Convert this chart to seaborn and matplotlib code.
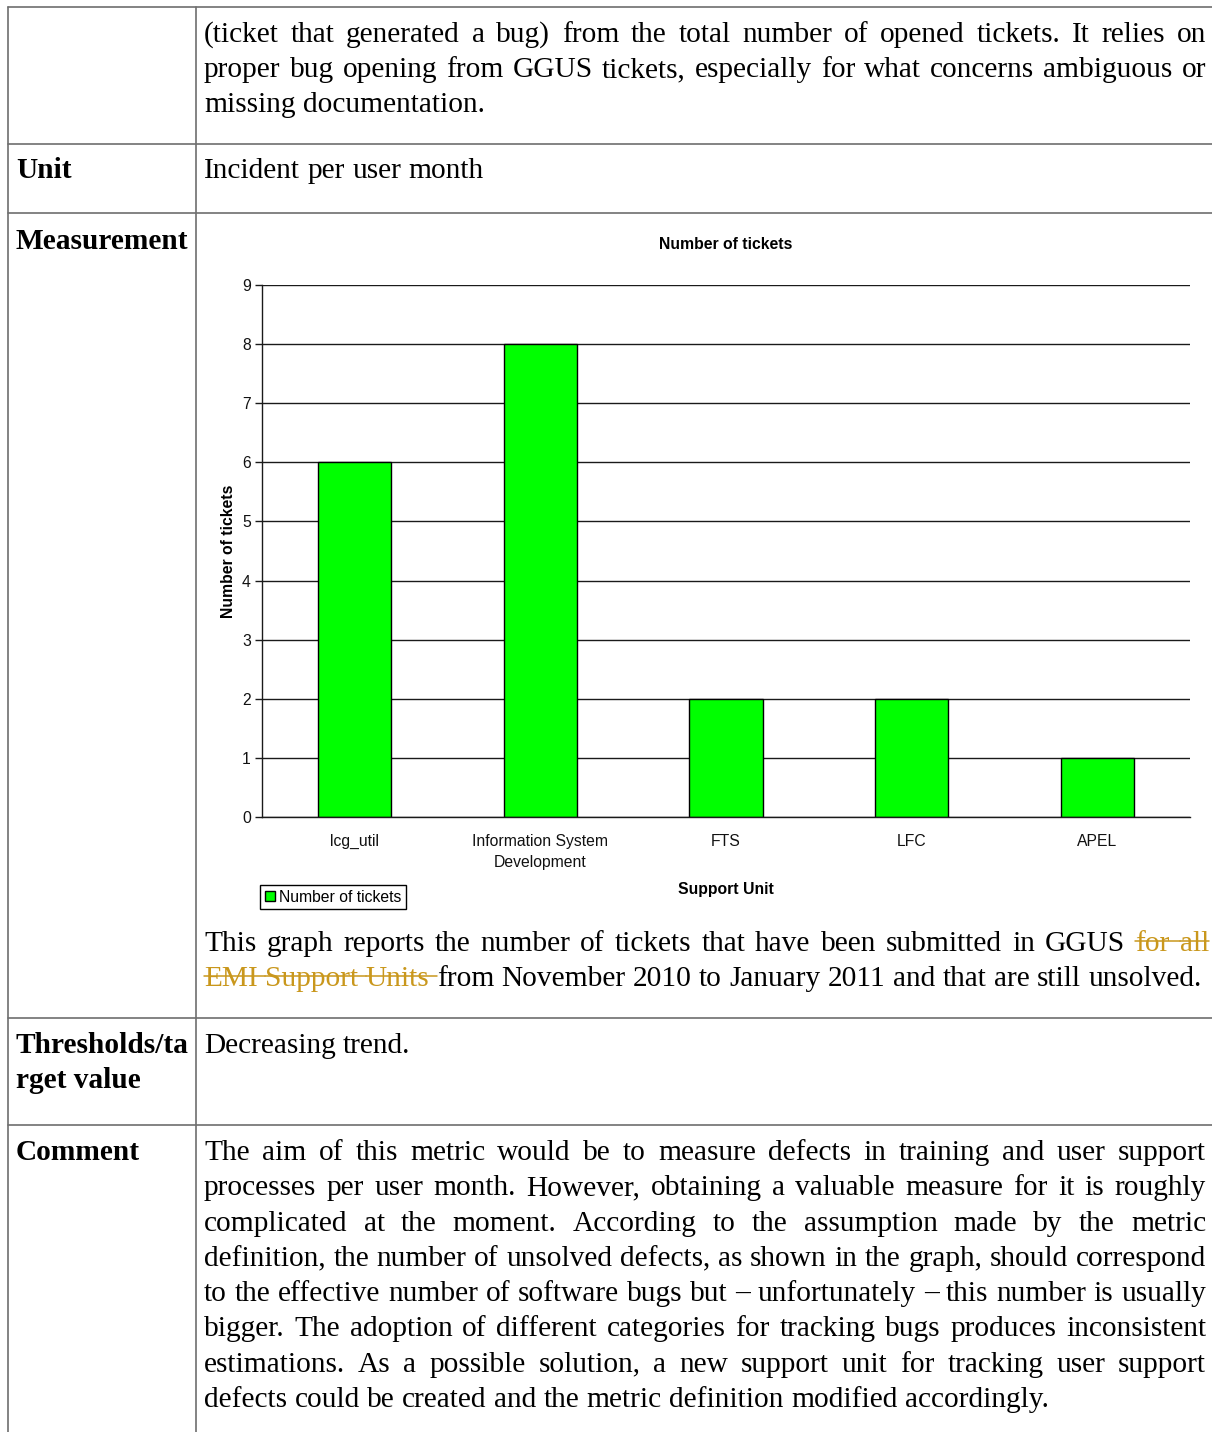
import matplotlib
matplotlib.use("Agg")
import matplotlib.pyplot as plt
import seaborn as sns
from matplotlib.patches import Patch
from matplotlib.lines import Line2D

W, H = 1212, 1432

# chart data
support_units = ["lcg_util", "Information System\nDevelopment", "FTS", "LFC", "APEL"]
tickets = [6, 8, 2, 2, 1]

# table text
intro_lines = [
    "(ticket that generated a bug) from the total number of opened tickets. It relies on",
    "proper bug opening from GGUS tickets, especially for what concerns ambiguous or",
    "missing documentation.",
]
unit_text = "Incident per user month"
caption_start = "This graph reports the number of tickets that have been submitted in GGUS"
caption_struck_1 = "for all"
caption_struck_2 = "EMI Support Units"
caption_end = "from November 2010 to January 2011 and that are still unsolved."
threshold_text = "Decreasing trend."
comment_lines = [
    "The aim of this metric would be to measure defects in training and user support",
    "processes per user month. However, obtaining a valuable measure for it is roughly",
    "complicated at the moment. According to the assumption made by the metric",
    "definition, the number of unsolved defects, as shown in the graph, should correspond",
    "to the effective number of software bugs but \u2013 unfortunately \u2013 this number is usually",
    "bigger. The adoption of different categories for tracking bugs produces inconsistent",
    "estimations. As a possible solution, a new support unit for tracking user support",
    "defects could be created and the metric definition modified accordingly.",
]

sns.set_style("white")
plt.rcParams["font.family"] = ["Liberation Sans", "DejaVu Sans"]
plt.rcParams["text.color"] = "black"
plt.rcParams["axes.labelcolor"] = "black"

SERIF = ["Liberation Serif", "DejaVu Serif"]
FS = 21.2
GOLD = "#c9971c"
LINE = "#6e6e6e"
CHART_FS = 11.3

fig = plt.figure(figsize=(W / 100, H / 100), dpi=100)
fig.patch.set_facecolor("white")


def fx(x):
    return x / W


def fy(y):
    return 1 - y / H


# ---- table grid
for yy in [7, 144, 213, 1018, 1125]:
    fig.add_artist(Line2D([fx(8), 1], [fy(yy), fy(yy)], color=LINE, lw=1.2))
for xx in [8, 196]:
    fig.add_artist(Line2D([fx(xx), fx(xx)], [fy(7), 0], color=LINE, lw=1.2))

renderer = fig.canvas.get_renderer()


def text_width(s, weight="normal"):
    t = fig.text(0, 0, s, fontsize=FS, family=SERIF, fontweight=weight)
    w = t.get_window_extent(renderer).width
    t.remove()
    return w


SPACE = text_width("x x") - text_width("xx")


def draw_words(words, y, x0=204, x1=1206, justify=True, weight="normal"):
    widths = [text_width(w, weight) for w, _, _ in words]
    if justify and len(words) > 1:
        gap = (x1 - x0 - sum(widths)) / (len(words) - 1)
    else:
        gap = SPACE
    x = x0
    starts = []
    for (w, col, strike), wd in zip(words, widths):
        fig.text(fx(x), fy(y), w, fontsize=FS, family=SERIF, fontweight=weight,
                 color=col, va="baseline", ha="left")
        starts.append(x)
        x += wd + gap
    # strike-through, carried over the following space
    em = FS * 100 / 72
    for i, (w, col, strike) in enumerate(words):
        if not strike:
            continue
        end = starts[i + 1] if i + 1 < len(words) else starts[i] + widths[i]
        ys = fy(y - 0.33 * em)
        fig.add_artist(Line2D([fx(starts[i]), fx(end)], [ys, ys], color=col, lw=1.1))


def plain(line):
    return [(w, "black", False) for w in line.split()]


# ---- left column labels
for label, yb in [("Unit", 178), ("Measurement", 249), ("Thresholds/ta", 1053),
                  ("rget value", 1088), ("Comment", 1160)]:
    fig.text(fx(16), fy(yb), label, fontsize=FS, family=SERIF, fontweight="bold",
             va="baseline", ha="left")

# ---- right column text
for i, line in enumerate(intro_lines):
    draw_words(plain(line), 42 + 35 * i, justify=i < len(intro_lines) - 1)
draw_words(plain(unit_text), 178, justify=False)

line1 = plain(caption_start) + [(w, GOLD, True) for w in caption_struck_1.split()]
line2 = [(w, GOLD, True) for w in caption_struck_2.split()] + plain(caption_end)
draw_words(line1, 951, x1=1209, justify=True)
draw_words(line2, 986, justify=False)

draw_words(plain(threshold_text), 1053, justify=False)
for i, line in enumerate(comment_lines):
    draw_words(plain(line), 1160 + 35.3 * i, justify=i < len(comment_lines) - 1)

# ---- chart
ax = fig.add_axes([fx(262), fy(817), 928 / W, 532 / H])
sns.barplot(x=support_units, y=tickets, color="#00ff00", saturation=1, width=0.395,
            edgecolor="black", linewidth=1, ax=ax)
ax.set_xlim(-0.5, len(support_units) - 0.5)
ax.set_ylim(0, 9)
ax.set_yticks(range(10))
ax.set_xticks([i - 0.5 for i in range(len(support_units) + 1)], minor=True)
ax.yaxis.grid(True, color="#1a1a1a", lw=1)
ax.set_axisbelow(True)
for side in ["top", "right"]:
    ax.spines[side].set_visible(False)
for side in ["left", "bottom"]:
    ax.spines[side].set_color("#1a1a1a")
    ax.spines[side].set_linewidth(1)
ax.tick_params(axis="x", which="major", length=0, pad=12, labelsize=CHART_FS, labelcolor="#111111")
ax.tick_params(axis="x", which="minor", length=5, width=1, color="#1a1a1a", direction="out")
ax.tick_params(axis="y", length=5, width=1, color="#1a1a1a", pad=3, labelsize=CHART_FS,
               labelcolor="#111111", left=True)
for lbl in ax.get_xticklabels():
    lbl.set_linespacing(1.5)
ax.set_title("Number of tickets", fontweight="bold", fontsize=CHART_FS, pad=26)
ax.set_ylabel("Number of tickets", fontweight="bold", fontsize=CHART_FS, labelpad=4)
ax.set_xlabel("Support Unit", fontweight="bold", fontsize=CHART_FS, labelpad=9)

leg = fig.legend(handles=[Patch(facecolor="#00ff00", edgecolor="black", label="Number of tickets")],
                 loc="upper left", bbox_to_anchor=(fx(260), fy(885)), frameon=True,
                 fancybox=False, edgecolor="black", framealpha=1, handlelength=0.65,
                 handleheight=0.65, handletextpad=0.25, borderpad=0.3, borderaxespad=0,
                 fontsize=CHART_FS)
leg.get_frame().set_linewidth(1)

fig.savefig("out.png", dpi=100)
